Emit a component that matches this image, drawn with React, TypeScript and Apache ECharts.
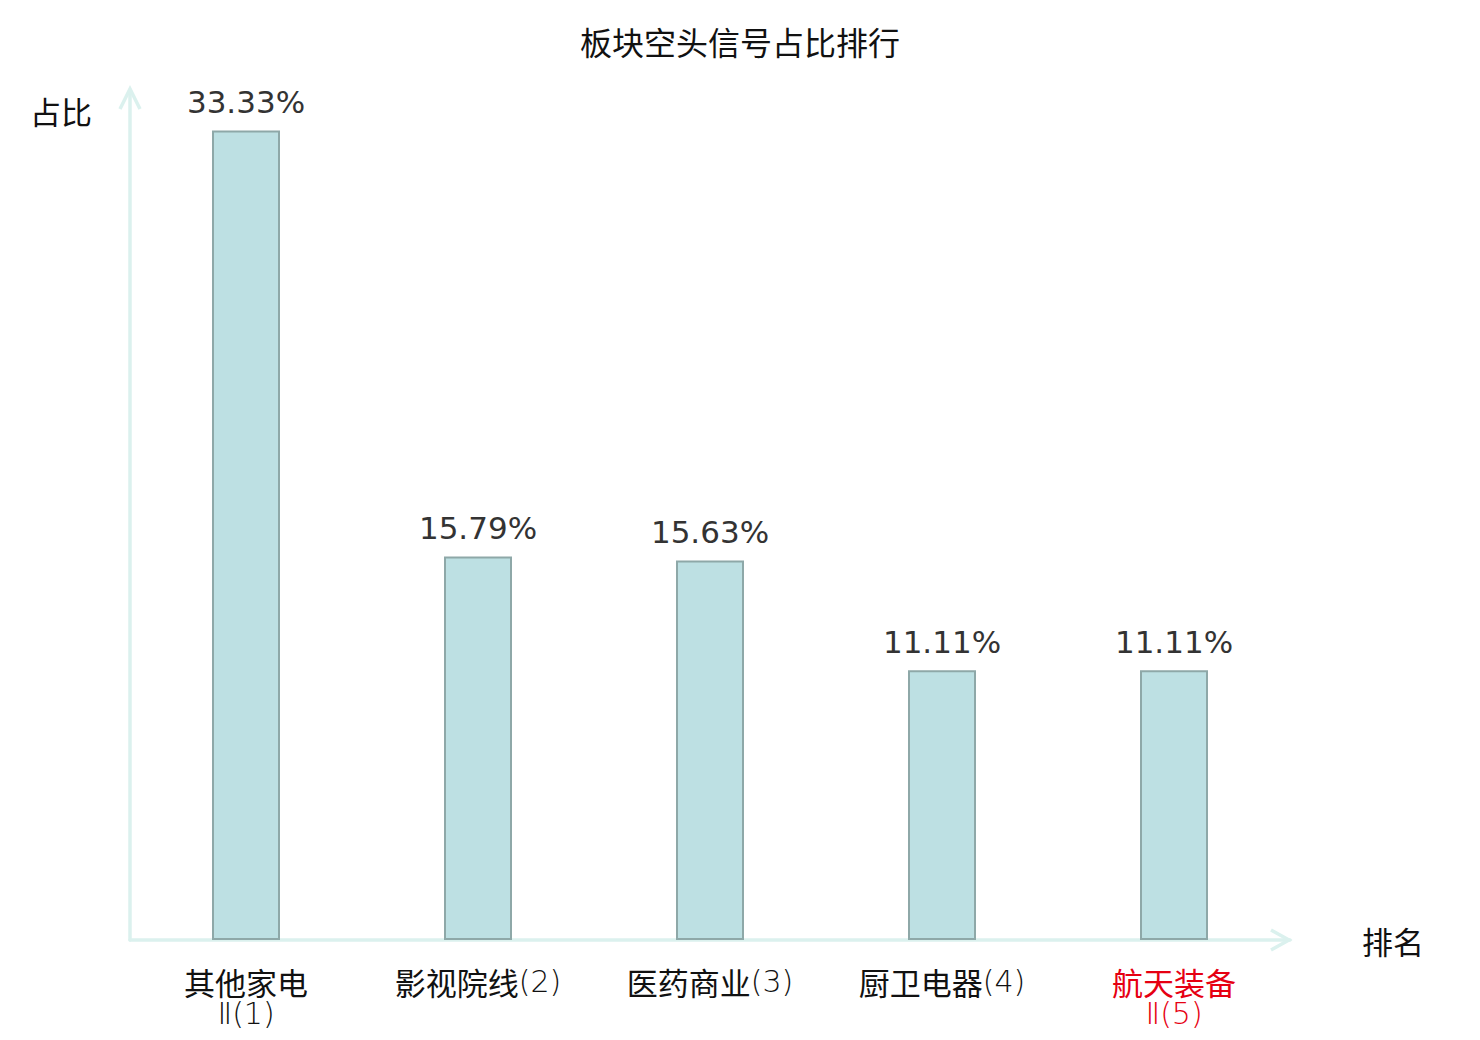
import React, { useEffect, useRef } from "react";
import * as echarts from "echarts";

const titleText = "板块空头信号占比排行";
const categories = ["其他家电Ⅱ", "影视院线", "医药商业", "厨卫电器", "航天装备Ⅱ"];
const shares = [33.33, 15.79, 15.63, 11.11, 11.11];
const highlightIndex = 4;
const yAxisName = "占比";
const xAxisName = "排名";

const W = 1480;
const H = 1040;
const GRID = { left: 130, top: 90, right: W - 1290, bottom: H - 940 };
const AXIS_COLOR = "#dbf1ee";
const CJK = "'Noto Sans CJK SC', 'Noto Sans', sans-serif";
const NUM = "'DejaVu Sans', sans-serif";

function splitLabel(v: string, i: number) {
  const m = v.match(/^([^Ⅱ]*)(Ⅱ?)$/);
  const base = m ? m[1] : v;
  const suffix = (m ? m[2] : "") + "(" + (i + 1) + ")";
  if (suffix.startsWith("Ⅱ")) {
    return "{c|" + base + "}\n{l|" + suffix + "}";
  }
  return "{c|" + base + "}{l|" + suffix + "}";
}

export default function App() {
  const ref = useRef<HTMLDivElement>(null);
  useEffect(() => {
    document.body.style.margin = "0";
    const chart = echarts.init(ref.current!, null, { renderer: "svg" });
    const x0 = GRID.left;
    const y0 = H - GRID.bottom;
    const x1 = W - GRID.right;
    const yTop = GRID.top;
    chart.setOption({
      animation: false,
      backgroundColor: "#ffffff",
      title: {
        text: titleText,
        left: "center",
        top: 20,
        textStyle: { fontFamily: CJK, fontSize: 32, fontWeight: "normal", color: "#111" },
      },
      grid: GRID,
      xAxis: {
        type: "category",
        data: categories,
        name: xAxisName,
        nameLocation: "end",
        nameGap: 72,
        nameTextStyle: { fontFamily: CJK, fontSize: 31, color: "#111", verticalAlign: "middle" },
        axisLine: { show: true, lineStyle: { color: AXIS_COLOR, width: 3.5 } },
        axisTick: { show: false },
        axisLabel: {
          margin: 25,
          interval: 0,
          fontFamily: CJK,
          fontSize: 31,
          lineHeight: 32,
          color: (_v: string, i: number) => (i === highlightIndex ? "#e60012" : "#111"),
          formatter: (v: string, i: number) => splitLabel(v, i),
          rich: {
            c: { fontFamily: CJK, fontSize: 31, lineHeight: 32 },
            l: { fontFamily: "'DejaVu Sans', sans-serif", fontWeight: 200, fontSize: 30, lineHeight: 32 },
          },
        },
        splitLine: { show: false },
      },
      yAxis: {
        type: "value",
        min: 0,
        max: 35,
        name: yAxisName,
        nameLocation: "end",
        nameGap: -20,
        nameTextStyle: {
          fontFamily: CJK,
          fontSize: 31,
          color: "#111",
          align: "right",
          verticalAlign: "middle",
          padding: [0, 38, 0, 0],
        },
        axisLine: { show: true, lineStyle: { color: AXIS_COLOR, width: 3.5 } },
        axisTick: { show: false },
        axisLabel: { show: false },
        splitLine: { show: false },
      },
      series: [
        {
          type: "bar",
          data: shares,
          barWidth: 68,
          itemStyle: { color: "#bde0e3", borderColor: "#8ea8a8", borderWidth: 2 },
          label: {
            show: true,
            position: "top",
            distance: 13,
            fontFamily: NUM,
            fontSize: 31,
            color: "#333",
            formatter: (p: any) => Number(p.value).toFixed(2) + "%",
          },
        },
      ],
      graphic: [
        {
          type: "polyline",
          shape: { points: [[x1 - 19, y0 - 10], [x1 - 1, y0], [x1 - 19, y0 + 10]] },
          style: { stroke: AXIS_COLOR, lineWidth: 3.5, fill: null },
          z: 10,
        },
        {
          type: "polyline",
          shape: { points: [[x0 - 10, yTop + 19], [x0, yTop - 1], [x0 + 10, yTop + 19]] },
          style: { stroke: AXIS_COLOR, lineWidth: 3.5, fill: null },
          z: 10,
        },
      ],
    });
    return () => chart.dispose();
  }, []);
  return <div ref={ref} style={{ width: W, height: H }} />;
}
